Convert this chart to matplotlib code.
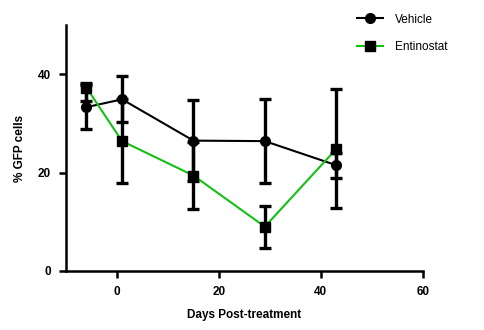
import matplotlib.pyplot as plt

days = [-6, 1, 15, 29, 43]

vehicle = [33.3, 34.9, 26.5, 26.4, 21.5]
vehicle_err = [4.5, 4.7, 8.2, 8.6, 2.5]

entinostat = [37.3, 26.4, 19.4, 9.0, 24.8]
entinostat_err_low = [2.7, 8.6, 6.8, 4.4, 12.1]
entinostat_err_high = [1.0, 8.6, 6.8, 4.3, 12.1]

plt.rcParams['font.family'] = ['Liberation Sans', 'DejaVu Sans']

fig = plt.figure(figsize=(4.85, 3.30), dpi=100)
ax = fig.add_axes([0.136, 0.179, 0.736, 0.745])

ax.errorbar(days, vehicle, yerr=vehicle_err, color='black', lw=1.5,
            marker='o', ms=7, mfc='black', mec='black',
            ecolor='black', elinewidth=2.4, capsize=4, capthick=2.4,
            label='Vehicle', zorder=3)
ax.errorbar(days, entinostat, yerr=[entinostat_err_low, entinostat_err_high],
            color='#14c014', lw=1.5, marker='s', ms=7, mfc='black', mec='black',
            ecolor='black', elinewidth=2.4, capsize=4, capthick=2.4,
            label='Entinostat', zorder=4)

ax.set_xlim(-10, 60)
ax.set_ylim(0, 50)
ax.set_xticks([0, 20, 40, 60])
ax.set_yticks([0, 20, 40])

for s in ['top', 'right']:
    ax.spines[s].set_visible(False)
for s in ['left', 'bottom']:
    ax.spines[s].set_linewidth(1.8)

ax.tick_params(width=1.8, length=5, labelsize=8.5, pad=6)
for lbl in ax.get_xticklabels() + ax.get_yticklabels():
    lbl.set_fontweight('bold')

ax.set_xlabel('Days Post-treatment', fontsize=8.5, fontweight='bold', labelpad=8)
ax.set_ylabel('% GFP cells', fontsize=8.5, fontweight='bold', labelpad=8)

# legend sits outside the plot area, top right
handles, labels = ax.get_legend_handles_labels()
handles = [h[0] for h in handles]
ax.legend(handles, labels, loc='upper left', bbox_to_anchor=(0.785, 1.09),
          frameon=False, fontsize=8.5, handlelength=2.2, labelspacing=1.3,
          handletextpad=1.0)

fig.savefig('out.png', dpi=100)
